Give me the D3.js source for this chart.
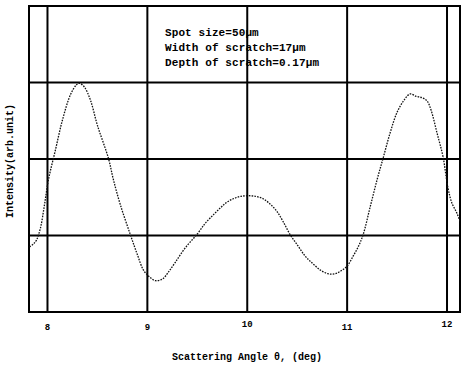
<!DOCTYPE html>
<html><head><meta charset="utf-8">
<script src="https://cdn.jsdelivr.net/npm/d3@7"></script>
<style>body{margin:0;background:#fff}svg{display:block}</style>
</head><body>
<script>
const angles = [7.82,7.86,7.89,7.93,7.97,8.01,8.08,8.15,8.23,8.29,8.32,8.37,8.43,8.50,8.61,8.66,8.73,8.83,8.90,8.96,9.02,9.08,9.15,9.21,9.28,9.38,9.50,9.58,9.66,9.73,9.79,9.86,9.93,10.01,10.09,10.16,10.23,10.30,10.36,10.43,10.51,10.58,10.65,10.73,10.81,10.88,10.94,11.00,11.06,11.11,11.16,11.23,11.30,11.36,11.43,11.50,11.57,11.63,11.69,11.75,11.80,11.84,11.90,11.96,12.01,12.05,12.10,12.15];
const intensity = [0.85,0.89,0.94,1.10,1.40,1.73,2.12,2.51,2.84,2.97,2.99,2.94,2.77,2.44,2.01,1.73,1.40,1.01,0.75,0.55,0.46,0.41,0.43,0.52,0.65,0.84,1.02,1.16,1.27,1.36,1.43,1.48,1.51,1.52,1.51,1.48,1.41,1.31,1.18,1.01,0.86,0.73,0.64,0.55,0.50,0.50,0.54,0.60,0.73,0.85,1.01,1.37,1.73,2.01,2.34,2.61,2.77,2.85,2.82,2.80,2.76,2.64,2.34,2.03,1.62,1.42,1.29,1.11];
const xTicks = [8,9,10,11,12];
const xTickLabels = ["8","9","10","11","12"];
const yGrid = [1,2,3];
const notes = ["Spot size=50μm","Width of scratch=17μm","Depth of scratch=0.17μm"];
const xTitle = "Scattering Angle θ, (deg)";
const yTitle = "Intensity(arb.unit)";

const W=463,H=367;
const L=29,R=460,T=6,B=312;
const x = d3.scaleLinear().domain([7.815,12.13]).range([L,R]);
const y = d3.scaleLinear().domain([0,4]).range([B,T]);
const font = "'Liberation Mono', 'DejaVu Sans Mono', monospace";

const svg = d3.select("body").append("svg").attr("width",W).attr("height",H);
svg.append("defs").append("clipPath").attr("id","c").append("rect")
  .attr("x",L).attr("y",T).attr("width",R-L).attr("height",B-T);

// grid
svg.append("g").selectAll("line").data(xTicks).join("line")
  .attr("x1",d=>x(d)).attr("x2",d=>x(d)).attr("y1",T).attr("y2",B)
  .attr("stroke","#000").attr("stroke-width",2);
svg.append("g").selectAll("line").data(yGrid).join("line")
  .attr("x1",L).attr("x2",R).attr("y1",d=>y(d)).attr("y2",d=>y(d))
  .attr("stroke","#000").attr("stroke-width",2);
svg.append("rect").attr("x",L).attr("y",T).attr("width",R-L).attr("height",B-T)
  .attr("fill","none").attr("stroke","#000").attr("stroke-width",2);

// curve
const line = d3.line().x((d,i)=>x(angles[i])).y((d,i)=>y(d)).curve(d3.curveCatmullRom);
svg.append("path").datum(intensity).attr("d",line).attr("clip-path","url(#c)")
  .attr("fill","none").attr("stroke","#111").attr("stroke-width",1.3)
  .attr("stroke-dasharray","1.6,1.2");

// tick labels
svg.append("g").selectAll("text").data(xTicks).join("text")
  .attr("x",d=>x(d)).attr("y",(d,i)=> (i%2===0 && i>0) ? 327 : 330)
  .attr("text-anchor","middle").attr("font-family",font).attr("font-weight","bold")
  .attr("font-size",9).text((d,i)=>xTickLabels[i]);

// notes
svg.append("g").selectAll("text").data(notes).join("text")
  .attr("x",165).attr("y",(d,i)=>36+i*15)
  .attr("font-family",font).attr("font-weight","bold").attr("font-size",11)
  .attr("letter-spacing",0.1).text(d=>d);

// titles
svg.append("text").attr("x",247).attr("y",360).attr("text-anchor","middle")
  .attr("font-family",font).attr("font-weight","bold").attr("font-size",10).text(xTitle);
svg.append("text").attr("transform","translate(13,161) rotate(-90)").attr("text-anchor","middle")
  .attr("font-family",font).attr("font-weight","bold").attr("font-size",10).text(yTitle);
</script>
</body></html>
